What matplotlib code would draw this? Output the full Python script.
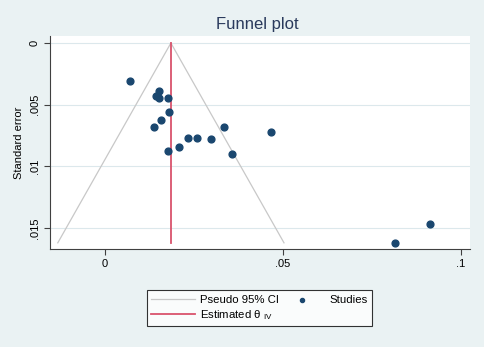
import numpy as np
import matplotlib.pyplot as plt

plt.rcParams['font.family'] = ['Liberation Sans', 'DejaVu Sans']

# study effect sizes and standard errors
effect = [0.0070, 0.0152, 0.0143, 0.0152, 0.0177, 0.0180, 0.0157, 0.0138, 0.0334,
          0.0466, 0.0233, 0.0258, 0.0298, 0.0208, 0.0177, 0.0357, 0.0815, 0.0913]
std_err = [0.00308, 0.00389, 0.00430, 0.00446, 0.00446, 0.00559, 0.00624, 0.00681, 0.00681,
           0.00722, 0.00770, 0.00770, 0.00778, 0.00843, 0.00876, 0.00900, 0.01622, 0.01468]
theta_iv = 0.01854
se_max = 0.0162

xticks = [0, 0.05, 0.1]
xticklabels = ["0", ".05", ".1"]
yticks = [0, 0.005, 0.01, 0.015]
yticklabels = ["0", ".005", ".01", ".015"]

bg = "#eaf2f3"
fig = plt.figure(figsize=(4.84, 3.47), dpi=100, facecolor=bg)
ax = fig.add_axes([0.1033, 0.2824, 0.8677, 0.6139])
ax.set_facecolor("white")

for t in yticks:
    ax.axhline(t, color="#dce8ec", lw=0.8, zorder=0)

se = np.array([0, se_max])
ax.plot(theta_iv - 1.96 * se, se, color="#c8c8c8", lw=0.9, label="Pseudo 95% CI")
ax.plot(theta_iv + 1.96 * se, se, color="#c8c8c8", lw=0.9)
ax.plot([theta_iv, theta_iv], [0, se_max], color="#d9536c", lw=1.3,
        label="Estimated θ $_{\\mathregular{IV}}$")
ax.scatter(effect, std_err, s=24, color="#1a476f", zorder=3, label="Studies")

ax.set_xlim(-0.0154, 0.1025)
ax.set_ylim(0.0167, -0.00057)
ax.set_xticks(xticks)
ax.set_xticklabels(xticklabels)
ax.set_yticks(yticks)
ax.set_yticklabels(yticklabels, rotation=90, va="center")
ax.tick_params(labelsize=8, length=4, color="#404040")
ax.spines["top"].set_visible(False)
ax.spines["right"].set_visible(False)
ax.spines["left"].set_color("#404040")
ax.spines["bottom"].set_color("#404040")
ax.set_ylabel("Standard error", fontsize=8)
fig.text(0.531, 0.93, "Funnel plot", ha="center", va="center", fontsize=12, color="#2a3a5c")

h, l = ax.get_legend_handles_labels()
leg = fig.legend(h, l, ncol=2, loc="center", bbox_to_anchor=(0.536, 0.112),
                 fontsize=8.2, frameon=True, fancybox=False, edgecolor="black",
                 handlelength=3.8, borderpad=0.4, labelspacing=0.3,
                 columnspacing=0.1, handletextpad=0.5, markerscale=0.6)
leg.get_frame().set_linewidth(0.8)

fig.savefig("out.png", dpi=100, facecolor=bg)
